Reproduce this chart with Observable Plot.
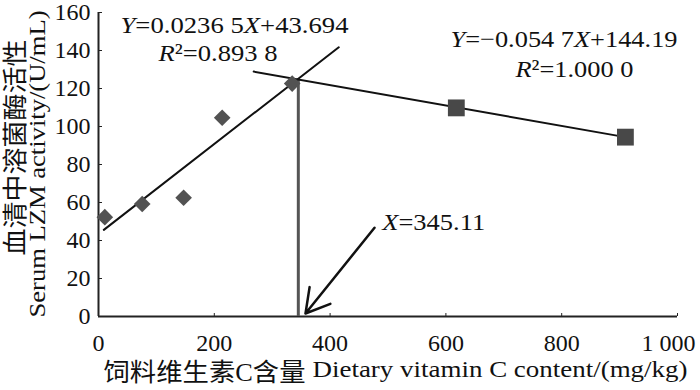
<!DOCTYPE html>
<html>
<head>
<meta charset="utf-8">
<script src="https://cdn.jsdelivr.net/npm/d3@7"></script>
<script src="https://cdn.jsdelivr.net/npm/@observablehq/plot@0.6"></script>
<style>
  body { margin: 0; background: #fff; }
</style>
</head>
<body>
<div id="chart"></div>
<script>
// ---- data ----
const diamondX = [10.9, 75.5, 147, 213.6, 334.5];
const diamondY = [52.3, 59.2, 62.5, 104.6, 122.6];
const squareX = [618, 910];
const squareY = [109.8, 94.4];
const riseLineX = [9.2, 415];
const riseLineY = [45.6, 141.7];
const fallLineX = [268, 910];
const fallLineY = [128.9, 94.4];
const optimumX = [345.11];
const optimumY = [125];
const arrowX = [476.7, 357.5];
const arrowY = [46.7, 1.6];
const xTicks = [0, 200, 400, 600, 800, 1000];
const xTickLabels = ["0", "200", "400", "600", "800", "1 000"];
const yTicks = [0, 20, 40, 60, 80, 100, 120, 140, 160];
const eqLabels = ["Y=0.0236 5X+43.694", "Y=−0.054 7X+144.19"];
const r2Labels = ["R²=0.893 8", "R²=1.000 0"];
const optimumLabel = "X=345.11";
const yTitleZh = "血清中溶菌酶活性";
const yTitleEn = "Serum LZM activity/(U/mL)";
const xTitleZh = "饲料维生素C含量";
const xTitleEn = "Dietary vitamin C content/(mg/kg)";

// ---- layout of annotations ----
const eqPos = [{x: 234.9, y: 153.3}, {x: 804, y: 145.8}];
const r2Pos = [{x: 206.4, y: 138.7}, {x: 822, y: 130}];
const optPos = {x: 490, y: 49.5};
const textLengths = new Map([
  [eqLabels[0], 228], [eqLabels[1], 227],
  [r2Labels[0], 119], [r2Labels[1], 118],
  [optimumLabel, 103],
  [yTitleZh, 216], [yTitleEn, 307],
  [xTitleZh, 202], [xTitleEn, 375]
]);
const italicSet = new Set([...eqLabels, ...r2Labels, optimumLabel]);

const diamonds = diamondX.map((x, i) => ({x, y: diamondY[i]}));
const squares = squareX.map((x, i) => ({x, y: squareY[i]}));
const rise = riseLineX.map((x, i) => ({x, y: riseLineY[i]}));
const fall = fallLineX.map((x, i) => ({x, y: fallLineY[i]}));
const eqData = eqLabels.map((t, i) => ({...eqPos[i], t}));
const r2Data = r2Labels.map((t, i) => ({...r2Pos[i], t}));
const xFmt = d => xTickLabels[xTicks.indexOf(d)];

const plot = Plot.plot({
  width: 700,
  height: 390,
  marginLeft: 98,
  marginRight: 23,
  marginTop: 12,
  marginBottom: 74,
  style: {
    fontFamily: '"Liberation Serif", "Noto Sans CJK SC", serif',
    fontSize: "24px",
    color: "#111",
    background: "#fff",
    overflow: "visible"
  },
  x: {domain: [0, 1000]},
  y: {domain: [0, 160]},
  marks: [
    Plot.ruleY([0], {stroke: "#222", strokeWidth: 2}),
    Plot.ruleX([0], {stroke: "#222", strokeWidth: 2}),
    Plot.axisX({ticks: xTicks, tickSize: -3, tickPadding: 20, fontSize: 24, label: null,
      tickFormat: d => d === 1000 ? "" : xFmt(d), stroke: "#222"}),
    Plot.axisX({ticks: [1000], tickSize: 0, tickPadding: 17, fontSize: 24, label: null,
      tickFormat: xFmt, dx: -9}),
    Plot.axisY({ticks: yTicks, tickSize: -4, tickPadding: 12, fontSize: 24, label: null, stroke: "#222"}),
    Plot.ruleX(optimumX.map((x, i) => ({x, y2: optimumY[i]})), {x: "x", y1: 0, y2: "y2", stroke: "#555", strokeWidth: 3}),
    Plot.line(rise, {x: "x", y: "y", stroke: "#111", strokeWidth: 2}),
    Plot.line(fall, {x: "x", y: "y", stroke: "#111", strokeWidth: 2}),
    Plot.dot(diamonds, {x: "x", y: "y", symbol: "diamond2", r: 7.5, fill: "#525252"}),
    Plot.dot(squares, {x: "x", y: "y", symbol: "square", r: 9.5, fill: "#484848"}),
    Plot.arrow([{x1: arrowX[0], y1: arrowY[0], x2: arrowX[1], y2: arrowY[1]}],
      {x1: "x1", y1: "y1", x2: "x2", y2: "y2", stroke: "#111", strokeWidth: 2.5, headLength: 16, headAngle: 60}),
    Plot.text(eqData, {x: "x", y: "y", text: "t", fontSize: 24, fill: "#111"}),
    Plot.text(r2Data, {x: "x", y: "y", text: "t", fontSize: 24, fill: "#111"}),
    Plot.text([{...optPos, t: optimumLabel}], {x: "x", y: "y", text: "t", textAnchor: "start", fontSize: 24, fill: "#111"}),
    Plot.text([yTitleZh], {frameAnchor: "left", textAnchor: "middle", lineAnchor: "middle", rotate: -90, dx: -83, dy: -17, fontSize: 25, fill: "#111"}),
    Plot.text([yTitleEn], {frameAnchor: "left", textAnchor: "middle", lineAnchor: "middle", rotate: -90, dx: -61.5, dy: -0.5, fontSize: 24, fill: "#111"}),
    Plot.text([xTitleZh], {frameAnchor: "bottom", textAnchor: "middle", lineAnchor: "middle", dx: -183.5, dy: 56.5, fontSize: 25, fill: "#111"}),
    Plot.text([xTitleEn], {frameAnchor: "bottom", textAnchor: "middle", lineAnchor: "middle", dx: 112, dy: 53.3, fontSize: 24, fill: "#111"})
  ]
});

// italic variables and stretched text widths
plot.querySelectorAll("text").forEach(t => {
  const s = t.textContent;
  if (italicSet.has(s)) {
    t.textContent = "";
    s.split(/([XYR])/).forEach(part => {
      if (!part) return;
      const ts = document.createElementNS("http://www.w3.org/2000/svg", "tspan");
      ts.textContent = part;
      if (/^[XYR]$/.test(part)) ts.setAttribute("font-style", "italic");
      t.appendChild(ts);
    });
  }
  if (textLengths.has(s)) {
    t.setAttribute("textLength", textLengths.get(s));
    t.setAttribute("lengthAdjust", "spacingAndGlyphs");
  }
});

document.getElementById("chart").appendChild(plot);
</script>
</body>
</html>
